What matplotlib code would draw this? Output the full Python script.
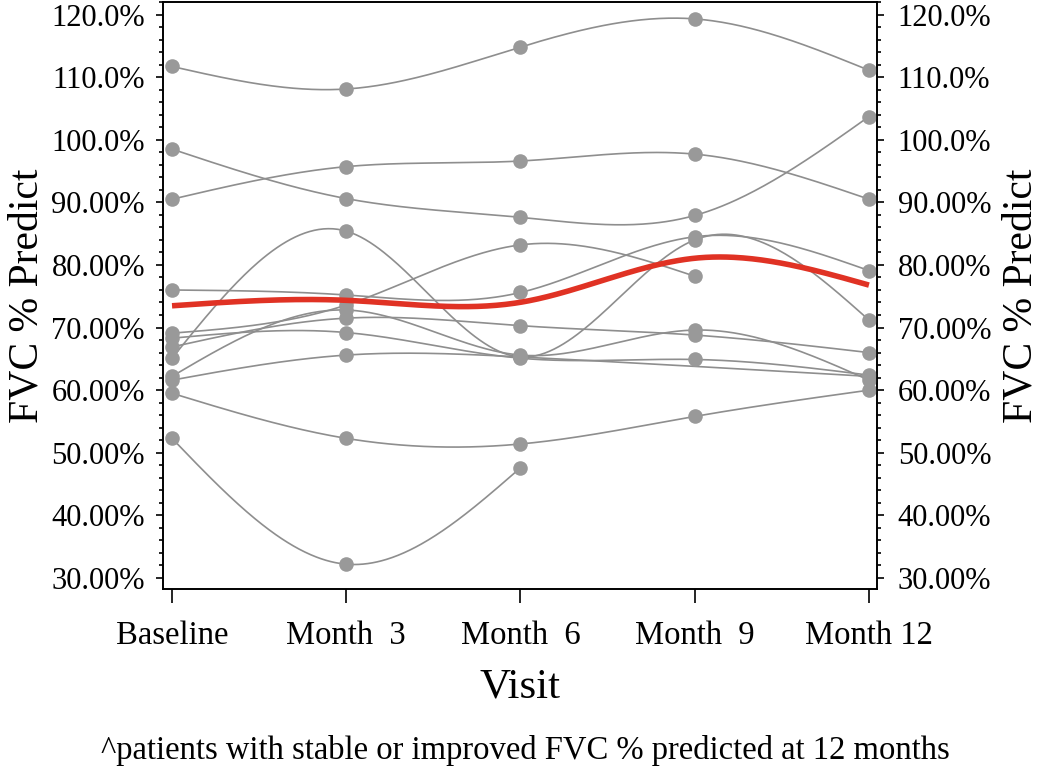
import numpy as np
import matplotlib
matplotlib.use("Agg")
import matplotlib.pyplot as plt
from matplotlib.ticker import FixedLocator, FixedFormatter, MultipleLocator

# --- data ---
visits = ["Baseline", "Month  3", "Month  6", "Month  9", "Month 12"]
visit_pos = [0, 1, 2, 3, 4]

# FVC % predicted per patient (nan = visit missing)
nan = np.nan
pat_a = [111.7, 108.1, 114.8, 119.3, 111.1]
pat_b = [98.5, 90.6, 87.6, 87.9, 103.7]
pat_c = [90.5, 95.7, 96.6, 97.7, 90.5]
pat_d = [59.5, 52.3, 51.4, 55.8, 60.0]
pat_e = [52.3, 32.2, 47.6, nan, nan]
pat_f = [65.1, 85.4, 65.3, 84.0, 71.2]
pat_g = [76.0, 75.2, 75.6, 84.5, 79.1]
pat_h = [69.1, 73.6, 83.2, 78.2, nan]
pat_i = [66.9, 71.5, 70.3, 68.8, 66.0]
pat_j = [62.2, 72.8, 65.6, 69.6, 61.6]
pat_k = [68.3, 69.2, 65.1, 64.9, 62.4]
pat_l = [61.6, 65.6, 65.3, nan, 62.2]
patients = [pat_a, pat_b, pat_c, pat_d, pat_e, pat_f,
            pat_g, pat_h, pat_i, pat_j, pat_k, pat_l]

ytick_vals = [30, 40, 50, 60, 70, 80, 90, 100, 110, 120]
ytick_labels = ["30.00%", "40.00%", "50.00%", "60.00%", "70.00%",
                "80.00%", "90.00%", "100.0%", "110.0%", "120.0%"]

footnote = "^patients with stable or improved FVC % predicted at 12 months"


def spline(x, y, n=300):
    # natural cubic spline through the points
    x = np.asarray(x, float)
    y = np.asarray(y, float)
    k = len(x)
    h = np.diff(x)
    A = np.zeros((k, k))
    b = np.zeros(k)
    A[0, 0] = 1
    A[-1, -1] = 1
    for i in range(1, k - 1):
        A[i, i - 1] = h[i - 1]
        A[i, i] = 2 * (h[i - 1] + h[i])
        A[i, i + 1] = h[i]
        b[i] = 6 * ((y[i + 1] - y[i]) / h[i] - (y[i] - y[i - 1]) / h[i - 1])
    M = np.linalg.solve(A, b)
    xs = np.linspace(x[0], x[-1], n)
    idx = np.clip(np.searchsorted(x, xs) - 1, 0, k - 2)
    x0, x1 = x[idx], x[idx + 1]
    hh = x1 - x0
    t0, t1 = x1 - xs, xs - x0
    ys = (M[idx] * t0 ** 3 / (6 * hh) + M[idx + 1] * t1 ** 3 / (6 * hh)
          + (y[idx] / hh - M[idx] * hh / 6) * t0
          + (y[idx + 1] / hh - M[idx + 1] * hh / 6) * t1)
    return xs, ys


plt.rcParams['font.family'] = ['Liberation Serif', 'DejaVu Serif']

fig = plt.figure(figsize=(10.5, 7.67), dpi=100)
ax = fig.add_axes([0.1552, 0.2321, 0.68, 0.7653])

grey = "#8e8e8e"
for p in patients:
    p = np.asarray(p, float)
    ok = ~np.isnan(p)
    xs, ys = spline(np.array(visit_pos)[ok], p[ok])
    ax.plot(xs, ys, color=grey, lw=1.2, zorder=2)
    ax.plot(np.array(visit_pos)[ok], p[ok], 'o', color="#999999",
            ms=10.5, mec="none", zorder=3)

# mean per visit
means = np.nanmean(np.array(patients, float), axis=0)
mx, my = spline(visit_pos, means)
ax.plot(mx, my, color="#e03224", lw=4, zorder=4, solid_capstyle='butt')

ax.set_xlim(-0.052, 4.046)
ax.set_ylim(28.24, 122.0)
ax.set_xticks(visit_pos)
ax.set_xticklabels(visits, fontsize=23.5)
ax.yaxis.set_major_locator(FixedLocator(ytick_vals))
ax.yaxis.set_major_formatter(FixedFormatter(ytick_labels))
ax.yaxis.set_minor_locator(MultipleLocator(2))
ax.tick_params(axis='y', which='major', labelsize=22, length=5, width=1.2, pad=8)
ax.tick_params(axis='y', which='minor', length=3, width=1.2)
ax.tick_params(axis='x', length=10, width=1.2, pad=13)
for s in ax.spines.values():
    s.set_linewidth(1.2)

ax.set_xlabel("Visit", fontsize=31)
ax.xaxis.set_label_coords(0.5, -0.135)
ax.set_ylabel("FVC % Predict", fontsize=30)
ax.yaxis.set_label_coords(-0.163, 0.5)

ax2 = ax.twinx()
ax2.set_ylim(ax.get_ylim())
ax2.yaxis.set_major_locator(FixedLocator(ytick_vals))
ax2.yaxis.set_major_formatter(FixedFormatter(ytick_labels))
ax2.yaxis.set_minor_locator(MultipleLocator(2))
ax2.tick_params(axis='y', which='major', labelsize=22, length=5, width=1.2, pad=10)
ax2.tick_params(axis='y', which='minor', length=3, width=1.2)
ax2.set_ylabel("FVC % Predict", fontsize=30, rotation=90)
ax2.yaxis.set_label_coords(1.175, 0.5)
for s in ax2.spines.values():
    s.set_linewidth(1.2)

fig.text(0.5, 1 - 750 / 767, footnote, ha='center', va='center', fontsize=23.5)

fig.savefig("out.png", dpi=100)
